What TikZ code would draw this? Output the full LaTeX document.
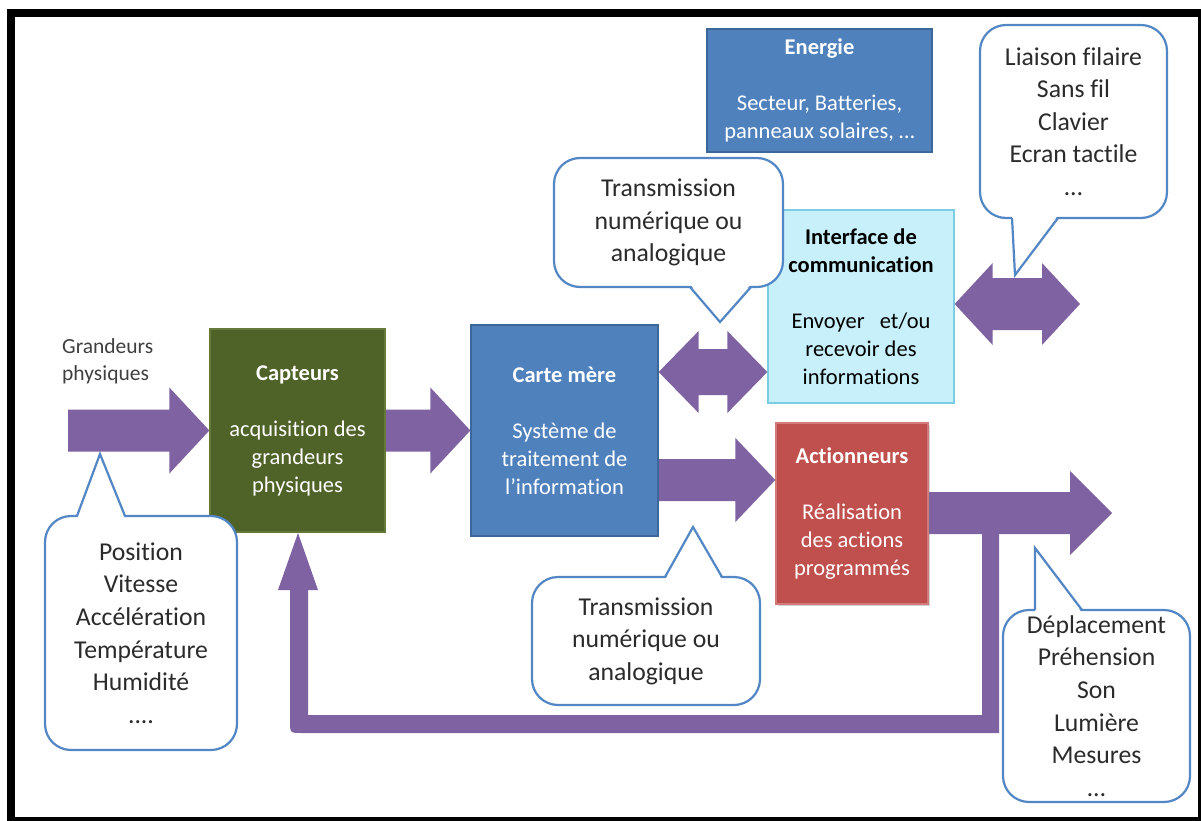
\documentclass[tikz,border=0pt]{standalone}
\usepackage{fontspec}
\setmainfont{Carlito}[Ligatures=NoCommon]
\usetikzlibrary{calc,shadows,backgrounds}

\definecolor{boxblue}{HTML}{4F81BD}
\definecolor{boxblueedge}{HTML}{3B679B}
\definecolor{boxgreen}{HTML}{4F6228}
\definecolor{boxgreenedge}{HTML}{65793A}
\definecolor{boxred}{HTML}{C0504D}
\definecolor{boxrededge}{HTML}{D27A77}
\definecolor{boxcyan}{HTML}{C8F0FA}
\definecolor{boxcyanedge}{HTML}{7ACDE3}
\definecolor{flow}{HTML}{7F62A1}
\definecolor{calloutedge}{HTML}{5286C4}
\definecolor{calltext}{HTML}{2B2B2B}
\definecolor{gptext}{HTML}{3F3F3F}

\tikzset{
  blockbox/.style={draw, line width=1.3pt, inner sep=0pt, align=center,
    text=white, font=\fontsize{22.5}{28}\selectfont},
  bubble/.style={draw=calloutedge, line width=2.2pt, fill=white,
    rounded corners=26pt, inner sep=0pt, align=center, text=calltext,
    font=\fontsize{25.7}{32.6}\selectfont},
  flowfill/.style={fill=flow},
  tipedge/.style={draw=calloutedge, line width=2.2pt, line join=miter},
}

% horizontal block arrow: tail x from #1, tip at #2, shaft half width #3,
% head half width #4, head length #5
\newcommand{\flowarrow}[5]{%
  \fill[flowfill] let \p1=#1, \p2=#2 in
    (\x1,\y2+#3) -- (\x2-#5,\y2+#3) -- (\x2-#5,\y2+#4) -- (\x2,\y2)
    -- (\x2-#5,\y2-#4) -- (\x2-#5,\y2-#3) -- (\x1,\y2-#3) -- cycle;}

% double-headed block arrow: left tip #1 (sets the height), right tip #2
\newcommand{\dflowarrow}[5]{%
  \fill[flowfill] let \p1=#1, \p2=#2 in
    (\x1,\y1) -- (\x1+#5,\y1+#4) -- (\x1+#5,\y1+#3) -- (\x2-#5,\y1+#3)
    -- (\x2-#5,\y1+#4) -- (\x2,\y1) -- (\x2-#5,\y1-#4) -- (\x2-#5,\y1-#3)
    -- (\x1+#5,\y1-#3) -- (\x1+#5,\y1-#4) -- cycle;}

% pointer of a speech bubble: base point, tip, base point, shift into bubble
\newcommand{\bubbletip}[4]{%
  \fill[white] ($#1+#4$) -- #2 -- ($#3+#4$) -- cycle;
  \draw[tipedge] #1 -- #2 -- #3;}

\begin{document}
\begin{tikzpicture}[x=1pt,y=-1pt]
\useasboundingbox (0,0) rectangle (1201,821);

% outer frame
\fill[black] (7,9) rectangle (1201,17);
\fill[black] (7,9) rectangle (15,821);
\fill[black] (1198,9) rectangle (1201,821);
\fill[black] (7,817) rectangle (1201,821);

% blocks
\node[blockbox, fill=boxblue, draw=boxblueedge, minimum width=225pt,
  minimum height=123pt] (energie) at (819.5,90.5)
  {\textbf{Energie}\\[28pt]Secteur, Batteries,\\panneaux solaires, \dots};

\node[blockbox, fill=boxgreen, draw=boxgreenedge, minimum width=175pt,
  minimum height=203pt] (capt) at (297.5,430.5)
  {\textbf{Capteurs}\\[28pt]acquisition des\\grandeurs\\physiques};

\node[blockbox, fill=boxblue, draw=boxblueedge, minimum width=187pt,
  minimum height=211pt] (carte) at (564.5,430.5)
  {\textbf{Carte mère}\\[28pt]Système de\\traitement de\\l’information};

\node[blockbox, fill=boxred, draw=boxrededge, minimum width=152pt,
  minimum height=181pt,
  drop shadow={opacity=0.35, shadow xshift=2pt, shadow yshift=-2pt}] (act) at (852,513.5)
  {\textbf{Actionneurs}\\[28pt]Réalisation\\des actions\\programmés};

\node[blockbox, fill=boxcyan, draw=boxcyanedge, text=black, minimum width=186pt,
  minimum height=193pt] (inter) at (861,306.5)
  {\textbf{Interface de}\\\textbf{communication}\\[28pt]Envoyer\hspace{0.45em} et/ou\\recevoir des\\informations};

\node[anchor=west, align=left, inner sep=0pt, text=gptext,
  font=\fontsize{21.5}{27}\selectfont] (gp) at (62,361.5) {Grandeurs\\physiques};

% free ends of the flows
\coordinate (gptail) at (68,432);
\coordinate (outtip) at (1112,513);
\coordinate (commtip) at (1080,309);

% flows, behind the blocks
\begin{scope}[on background layer]
  \flowarrow{(gptail)}{(capt.west)}{21pt}{43pt}{40pt}
  \flowarrow{(capt.east)}{(carte.west)}{21pt}{43pt}{40pt}
  \flowarrow{(carte.east)}{($(act.west)+(0,-33.5)$)}{21pt}{42pt}{40pt}
  \flowarrow{(act.east)}{(outtip)}{21pt}{42pt}{42pt}
  \dflowarrow{($(carte.east)+(0,-58.5)$)}{(inter.west)}{23pt}{41pt}{40pt}
  \dflowarrow{($(inter.east)+(0,-2.5)$)}{(commtip)}{26pt}{41pt}{38pt}
  % feedback from the actuators' output back to the sensors
  \fill[flowfill] (982,530) -- (982,715) -- (308,715) -- (308,590)
    -- (318,590) -- (298,533) -- (278,590) -- (290,590)
    -- (290,721) .. controls (290,733) .. (302,733)
    -- (999,733) -- (999,530) -- cycle;
\end{scope}

% speech bubbles
\node[bubble, minimum width=192pt, minimum height=234pt] (pos) at (141,633)
  {Position\\Vitesse\\Accélération\\Température\\Humidité\\....};
\bubbletip{(77,516)}{(100,454)}{(125,516)}{(0,3)}

\node[bubble, minimum width=229pt, minimum height=129pt] (trtop) at (668.5,222.5)
  {Transmission\\numérique ou\\analogique};
\bubbletip{(690,287)}{(720,322)}{(751,287)}{(0,-3)}

\node[bubble, minimum width=228pt, minimum height=128pt] (trbot) at (646,641)
  {Transmission\\numérique ou\\analogique};
\bubbletip{(665,577)}{(693,527)}{(722,577)}{(0,3)}

\node[bubble, minimum width=187pt, minimum height=193pt] (liaison) at (1073.5,121.5)
  {Liaison filaire\\Sans fil\\Clavier\\Ecran tactile\\\dots};
\bubbletip{(1012,218)}{(1015,275)}{(1058,218)}{(0,-3)}

\node[bubble, minimum width=187pt, minimum height=192pt] (depl) at (1096.5,706)
  {Déplacement\\Préhension\\Son\\Lumière\\Mesures\\\dots};
\bubbletip{(1035,610)}{(1035,548)}{(1082,610)}{(0,3)}

\end{tikzpicture}
\end{document}
